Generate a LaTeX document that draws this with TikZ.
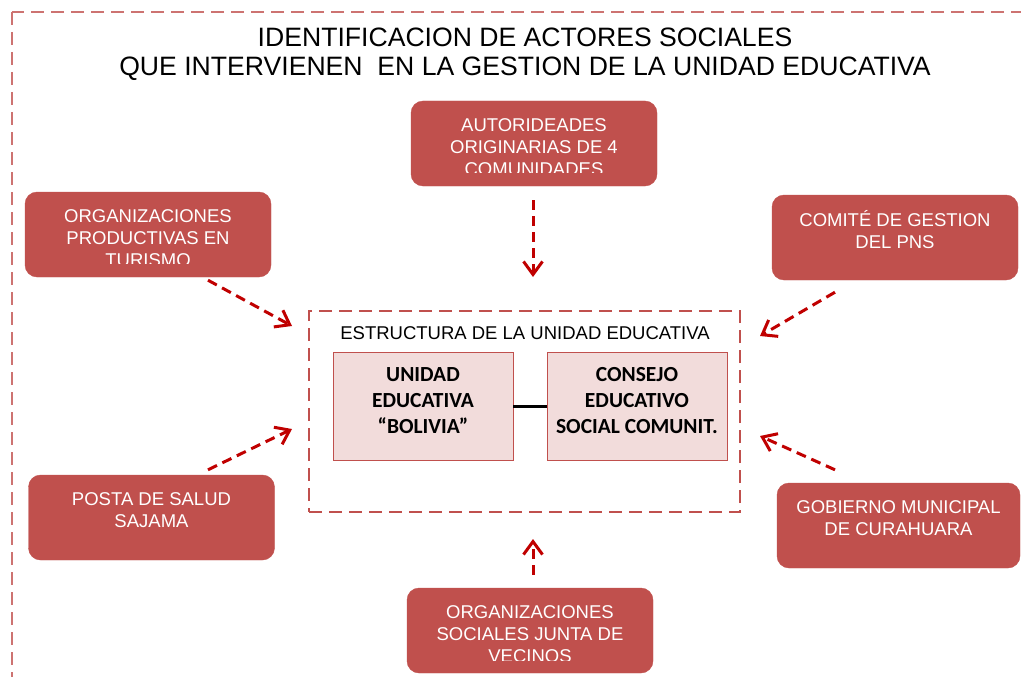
\documentclass[tikz,border=0pt]{standalone}
\usepackage{fontspec}
\setmainfont{Liberation Sans}
\newfontfamily\calibri{Carlito}
\usepackage{tikz}
\usetikzlibrary{arrows.meta,positioning,calc}
\definecolor{actorred}{HTML}{C0504D}
\definecolor{arrowred}{HTML}{C00000}
\definecolor{unitpink}{HTML}{F2DCDB}
\tikzset{
>={Straight Barb[length=13pt,width=19pt]},
  actorbox/.style={
    rectangle,
    rounded corners=12pt,
    fill=actorred,
    draw=actorred,
    minimum width=246pt,
    minimum height=85pt,
    inner sep=0pt},
  actortext/.style={
    anchor=north,
    inner sep=0pt,
    text=white,
    align=center,
    font=\fontsize{18.5}{22}\selectfont},
  unitbox/.style={
    rectangle,
    fill=unitpink,
    draw=actorred, thick,
    minimum width=180pt,
    minimum height=108pt},
  unittext/.style={
    inner sep=0pt,
    align=center,
    font=\calibri\bfseries\fontsize{21.5}{26}\selectfont},
  dashframe/.style={draw=actorred, line width=2pt, dash pattern=on 13pt off 7pt},
  flow/.style={draw=arrowred, line width=3pt, dash pattern=on 10pt off 6pt, ->},
}

\begin{document}
\begin{tikzpicture}[x=1pt, y=-1pt]
	\path[use as bounding box] (0,0) rectangle (1021,677);
	\clip (0,0) rectangle (1021,677);
	\draw[dashframe, draw=actorred!80] (12,12) rectangle (1040,700);

	\node[anchor=north, inner sep=0pt, align=center, font=\fontsize{26.6}{29}\selectfont] (title) at (525,27.5)
		{IDENTIFICACION DE ACTORES SOCIALES\\QUE INTERVIENEN\ \ EN LA GESTION DE LA UNIDAD EDUCATIVA};

	\node[dashframe, minimum width=431pt, minimum height=201pt, inner sep=0pt] (struct) at (524.5,411.5) {};
	\node[font=\fontsize{18.5}{22}\selectfont] (structlabel) at (525,333) {ESTRUCTURA DE LA UNIDAD EDUCATIVA};
	\node[unitbox] (unidad) at (423,406) {};
	\node[unitbox] (consejo) at (637,406) {};
	\node[unittext] (unidadtext) at ([yshift=5pt]unidad) {UNIDAD\\EDUCATIVA\\“BOLIVIA”};
	\node[unittext] (consejotext) at ([yshift=5pt]consejo) {CONSEJO\\EDUCATIVO\\SOCIAL COMUNIT.};
	\draw[line width=3pt] (unidad) -- (consejo);

	\node[actorbox] (autoridades) at (534,143.5) {};
	\node[actorbox] (productivas) at (148,234.5) {};
	\node[actorbox] (comite) at (895,237.5) {};
	\node[actorbox] (posta) at (151.5,517.5) {};
	\node[actorbox, minimum width=243pt] (gobierno) at (898.5,525.5) {};
	\node[actorbox] (sociales) at (530,630.5) {};

	\begin{scope}
		\clip (autoridades.north west) rectangle ([yshift=14pt]autoridades.south east);
		\node[actortext] (autoridadestext) at ([yshift=-18pt]autoridades.north) {AUTORIDEADES\\ORIGINARIAS DE 4\\COMUNIDADES};
	\end{scope}
	\begin{scope}
		\clip (productivas.north west) rectangle ([yshift=14pt]productivas.south east);
		\node[actortext] (productivastext) at ([yshift=-18pt]productivas.north) {ORGANIZACIONES\\PRODUCTIVAS EN\\TURISMO};
	\end{scope}
	\begin{scope}
		\clip (sociales.north west) rectangle ([yshift=13pt]sociales.south east);
		\node[actortext] (socialestext) at ([yshift=-18pt]sociales.north) {ORGANIZACIONES\\SOCIALES JUNTA DE\\VECINOS};
	\end{scope}
	\node[actortext] (comitetext) at ([yshift=-15pt]comite.north) {COMITÉ DE GESTION\\DEL PNS};
	\node[actortext] (postatext) at ([yshift=-18pt]posta.north) {POSTA DE SALUD\\SAJAMA};
	\node[actortext] (gobiernotext) at ([yshift=-18pt]gobierno.north) {GOBIERNO MUNICIPAL\\DE CURAHUARA};

	\draw[flow, shorten <=14pt, shorten >=33pt] ([xshift=-1pt]autoridades.south) -- ([xshift=-1pt]autoridades.south |- struct.north);
	\draw[flow, shorten <=13pt, shorten >=26pt] ([xshift=3pt]sociales.north) -- ([xshift=3pt]sociales.north |- struct.south);
	\draw[flow] ([shift={(60pt,-3pt)}]productivas.south) -- ([shift={(-16pt,-16pt)}]struct.north west);
	\draw[flow] ([shift={(-60pt,-12pt)}]comite.south) -- ([shift={(19pt,-26pt)}]struct.north east);
	\draw[flow] ([shift={(56.5pt,5pt)}]posta.north) -- ([shift={(-16pt,84pt)}]struct.south west);
	\draw[flow] ([shift={(-63.5pt,13pt)}]gobierno.north) -- ([shift={(19pt,77pt)}]struct.south east);
\end{tikzpicture}
\end{document}
